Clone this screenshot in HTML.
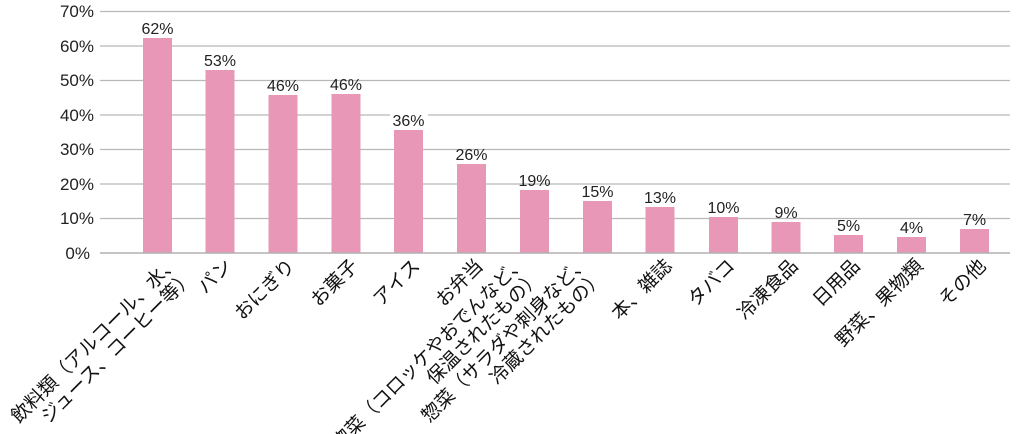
<!DOCTYPE html>
<html><head><meta charset="utf-8"><style>
html,body{margin:0;padding:0;background:#fff;overflow:hidden;}
svg{display:block;font-family:"Liberation Sans","Noto Sans CJK JP",sans-serif;}
</style></head><body>
<svg width="1021" height="434" viewBox="0 0 1021 434" xmlns="http://www.w3.org/2000/svg">
<g stroke="#b8b8b8" stroke-width="1.3">
<line x1="100" y1="11.5" x2="1010" y2="11.5"/>
<line x1="100" y1="46" x2="1010" y2="46"/>
<line x1="100" y1="80.5" x2="1010" y2="80.5"/>
<line x1="100" y1="115" x2="1010" y2="115"/>
<line x1="100" y1="149.5" x2="1010" y2="149.5"/>
<line x1="100" y1="184" x2="1010" y2="184"/>
<line x1="100" y1="218.5" x2="1010" y2="218.5"/>
</g>
<g font-size="17" fill="#222" text-anchor="end">
<text x="94" y="17">70%</text><text x="94" y="52">60%</text><text x="94" y="86">50%</text>
<text x="94" y="121">40%</text><text x="94" y="155">30%</text><text x="94" y="190">20%</text>
<text x="94" y="224">10%</text><text x="90" y="259">0%</text>
</g>
<g fill="#e897b6">
<rect x="143" y="38" width="29" height="215"/>
<rect x="205.5" y="70" width="29" height="183"/>
<rect x="268.5" y="95" width="29" height="158"/>
<rect x="331.5" y="94" width="29" height="159"/>
<rect x="394" y="130" width="29" height="123"/>
<rect x="457" y="164" width="29" height="89"/>
<rect x="520" y="190" width="29" height="63"/>
<rect x="583" y="201" width="29" height="52"/>
<rect x="645.5" y="207" width="29" height="46"/>
<rect x="709" y="217" width="29" height="36"/>
<rect x="771.5" y="222" width="29" height="31"/>
<rect x="834" y="235" width="29" height="18"/>
<rect x="897" y="237" width="29" height="16"/>
<rect x="960" y="229" width="29" height="24"/>
</g>
<line x1="100" y1="253" x2="1010" y2="253" stroke="#b0b0b0" stroke-width="1.5"/>
<g font-size="16" fill="#222" text-anchor="middle">
<g fill="#fff"><rect x="390" y="110" width="38" height="16"/><rect x="704" y="198" width="38" height="16"/></g>
<text x="157.5" y="34">62%</text><text x="220" y="66">53%</text><text x="283" y="91">46%</text>
<text x="346" y="90">46%</text><text x="408.5" y="126">36%</text><text x="471.5" y="160">26%</text>
<text x="534.5" y="186">19%</text><text x="597.5" y="197">15%</text><text x="660" y="203">13%</text>
<text x="723.5" y="213">10%</text><text x="786" y="218">9%</text><text x="848.5" y="231">5%</text>
<text x="911.5" y="233">4%</text><text x="974.5" y="225">7%</text>
</g>
<g font-size="19" fill="#111" text-anchor="end">
<text transform="translate(180,263) rotate(-45)">飲料類（アルコール、水、</text>
<text transform="translate(195,278) rotate(-45)">ジュース、コーヒー等）</text>
<text transform="translate(233,267) rotate(-45)">パン</text>
<text transform="translate(296,267) rotate(-45)">おにぎり</text>
<text transform="translate(359,267) rotate(-45)">お菓子</text>
<text transform="translate(421,267) rotate(-45)">アイス</text>
<text transform="translate(484,267) rotate(-45)">お弁当</text>
<text transform="translate(527,263) rotate(-45)">惣菜（コロッケやおでんなど、</text>
<text transform="translate(542,278) rotate(-45)">保温されたもの）</text>
<text transform="translate(590,263) rotate(-45)">惣菜（サラダや刺身など、</text>
<text transform="translate(605,278) rotate(-45)">冷蔵されたもの）</text>
<text transform="translate(673,267) rotate(-45)">本、雑誌</text>
<text transform="translate(736,267) rotate(-45)">タバコ</text>
<text transform="translate(799,267) rotate(-45)">冷凍食品</text>
<text transform="translate(861,267) rotate(-45)">日用品</text>
<text transform="translate(924,267) rotate(-45)">野菜、果物類</text>
<text transform="translate(987,267) rotate(-45)">その他</text>
</g>
</svg>
</body></html>
